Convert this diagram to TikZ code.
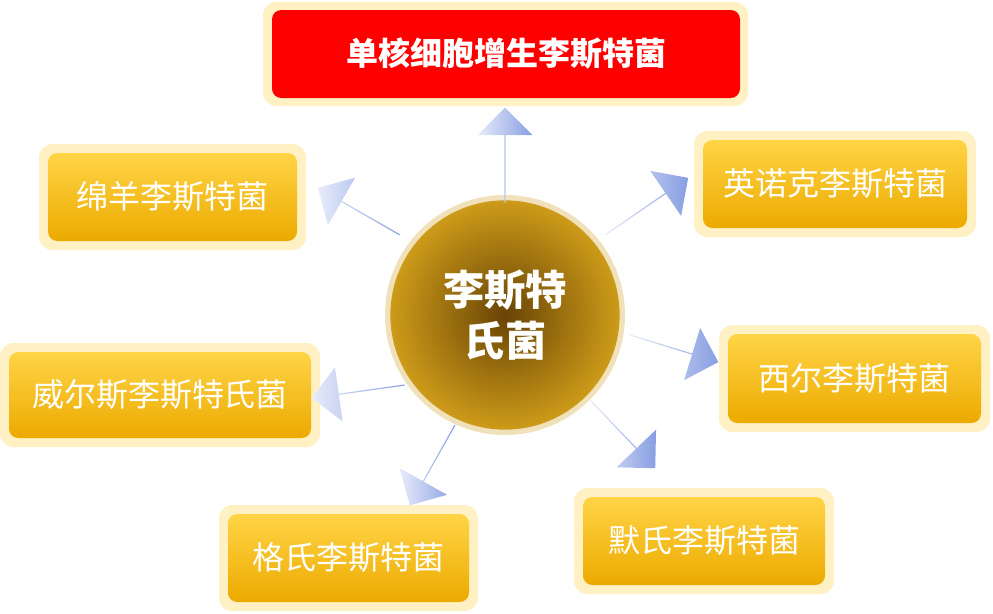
\documentclass[tikz,border=0pt]{standalone}
\usepackage{fontspec}
\setmainfont{Noto Sans CJK SC}
\usetikzlibrary{shapes.arrows,calc}
\definecolor{halo}{RGB}{255,241,196}
\definecolor{ytop}{RGB}{255,212,70}
\definecolor{ybot}{RGB}{236,170,0}
\definecolor{apale}{RGB}{232,236,250}
\definecolor{ablue}{RGB}{135,158,226}
\definecolor{cin}{RGB}{105,68,5}
\definecolor{cout}{RGB}{205,155,25}
\tikzset{
  haloBox/.style={fill=halo,rounded corners=10pt,draw=none},
  yBox/.style={top color=ytop,bottom color=ybot,rounded corners=7pt,draw=none,
    font=\fontsize{24}{28}\selectfont,text=white},
  barr/.style={single arrow,draw=none,left color=apale,right color=ablue,
    minimum width=41pt,single arrow head extend=9pt,single arrow head indent=0pt,inner sep=0pt}
}
\newcommand\blockarrow[2]{%
  \path let \p1=($(#2)-(#1)$), \n1={atan2(\y1,\x1)}, \n2={veclen(\x1,\y1)} in
    node[barr,minimum height=\n2,rotate=\n1] at ($(#1)!0.5!(#2)$) {};}
\newcommand\ybox[5]{% name, x1,y1,x2,y2 (inner)
  \fill[haloBox] (#2-9,#3-9) rectangle (#4+9,#5+9);
  \path[yBox] (#2,#3) rectangle (#4,#5);
  \node[font=\fontsize{24}{28}\selectfont,text=white] (#1) at ({(#2+#4)/2},{(#3+#5)/2}) {\csname txt#1\endcsname};}
\begin{document}
\begin{tikzpicture}[x=0.75pt,y=-0.75pt]
\useasboundingbox (0,0) rectangle (993,614);
% top red
\fill[haloBox] (263,2) rectangle (748,106);
\fill[red,rounded corners=7pt] (272,10) rectangle (740,98);
\node[font=\bfseries\fontsize{24}{28}\selectfont,text=white] (top) at (506,54) {单核细胞增生李斯特菌};
\expandafter\def\csname txta\endcsname{绵羊李斯特菌}
\expandafter\def\csname txtb\endcsname{英诺克李斯特菌}
\expandafter\def\csname txtc\endcsname{西尔李斯特菌}
\expandafter\def\csname txtd\endcsname{威尔斯李斯特氏菌}
\expandafter\def\csname txte\endcsname{格氏李斯特菌}
\expandafter\def\csname txtf\endcsname{默氏李斯特菌}
\ybox{a}{48}{153}{297}{241}
\ybox{b}{703}{140}{967}{228}
\ybox{c}{728}{334}{981}{423}
\ybox{d}{9}{352}{311}{438}
\ybox{e}{228}{514}{469}{602}
\ybox{f}{583}{497}{825}{585}
% center
\fill[cout!60!white,opacity=0.5] (505,315) circle (90pt);
\shade[inner color=cin,outer color=cout] (505,315) circle (86pt);
\node[font=\bfseries\fontsize{31}{38}\selectfont,text=white,align=center] (c) at (505,315) {李斯特\\氏菌};
% arrows
\coordinate (t0) at (505,203); \coordinate (h0) at (505,108);
\coordinate (t1) at (400,235); \coordinate (h1) at (318,188);
\coordinate (t2) at (605,235); \coordinate (h2) at (688,178);
\coordinate (t3) at (630,335); \coordinate (h3) at (718,362);
\coordinate (t4) at (405,385); \coordinate (h4) at (312,398);
\coordinate (t5) at (455,425); \coordinate (h5) at (410,505);
\coordinate (t6) at (590,400); \coordinate (h6) at (655,468);
\blockarrow{t0}{h0}\blockarrow{t1}{h1}\blockarrow{t2}{h2}\blockarrow{t3}{h3}
\blockarrow{t4}{h4}\blockarrow{t5}{h5}\blockarrow{t6}{h6}
\end{tikzpicture}
\end{document}
